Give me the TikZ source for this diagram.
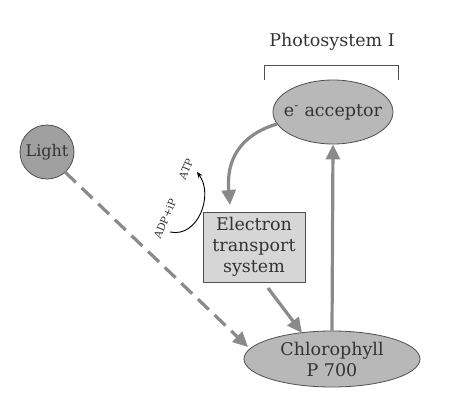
\documentclass[tikz,border=0pt]{standalone}
\usepackage{fontspec}
\setmainfont{DejaVu Serif}
\usetikzlibrary{arrows.meta,shapes.geometric}
\definecolor{arrgray}{HTML}{8A8A8A}
\definecolor{ellfill}{HTML}{B8B8B8}
\definecolor{lightfill}{HTML}{A0A0A0}
\definecolor{boxfill}{HTML}{D6D6D6}
\definecolor{edge}{HTML}{505050}
\definecolor{txt}{HTML}{333333}
\begin{document}
\begin{tikzpicture}[x=1pt,y=-1pt,
  bigarrow/.style={draw=arrgray,line width=3.2pt,-{Triangle[length=15pt,width=14pt]}},
  ell/.style={ellipse,draw=edge,line width=0.8pt,fill=ellfill,inner xsep=-14pt,inner ysep=-6pt},
  lbl/.style={font=\fontsize{17.5}{21}\selectfont,text=txt}]
\useasboundingbox (0,0) rectangle (453,405);
\node[ell,minimum width=176pt,minimum height=56pt,align=center,lbl] (chl) at (332,359) {Chlorophyll\\P 700};
\node[ell,minimum width=120pt,minimum height=64pt,lbl] (acc) at (333,112) {e\textsuperscript{-} acceptor};
\node[circle,draw=edge,line width=0.8pt,fill=lightfill,minimum size=54pt,inner sep=0pt,lbl,font=\fontsize{16}{18}\selectfont] (light) at (47,152) {Light};
\node[draw=edge,line width=0.8pt,fill=boxfill,minimum width=102pt,minimum height=70pt,align=center,lbl] (ets) at (254,247) {Electron\\transport\\system};
\node[lbl] (ps) at (332,42) {Photosystem I};
\coordinate (bl) at (264,80);
\coordinate (br) at (398,80);
\draw[edge,line width=1pt] (bl) -- ++(0,-15) -| (br);
% vertical arrow
\draw[bigarrow] (chl.north) -- (acc.south);
% curved arrow
\coordinate (cs) at (277,124);
\coordinate (ce) at (230,205);
\draw[bigarrow] (cs) .. controls (240,135) and (226,160) .. (ce);
% ETS to chlorophyll
\coordinate (es) at (268,288);
\coordinate (ee) at (302,333);
\draw[bigarrow] (es) -- (ee);
% dashed light arrow
\coordinate (ls) at (65,172);
\coordinate (le) at (248,347);
\draw[draw=arrgray,line width=3.2pt,dash pattern=on 15pt off 8pt,-{Triangle[length=15pt,width=14pt]}] (ls) -- (le);
% ADP -> ATP arc
\coordinate (as) at (170,232);
\coordinate (ae) at (197,172);
\draw[line width=0.9pt,-{Stealth[length=6pt,width=5pt]}] (as) .. controls (198,238) and (214,195) .. (ae);
\node[rotate=67,font=\fontsize{10.5}{12}\selectfont,text=txt,inner sep=0pt] (adp) at (165,219) {ADP+iP};
\node[rotate=67,font=\fontsize{10.5}{12}\selectfont,text=txt,inner sep=0pt] (atp) at (186,169) {ATP};
\end{tikzpicture}
\end{document}
